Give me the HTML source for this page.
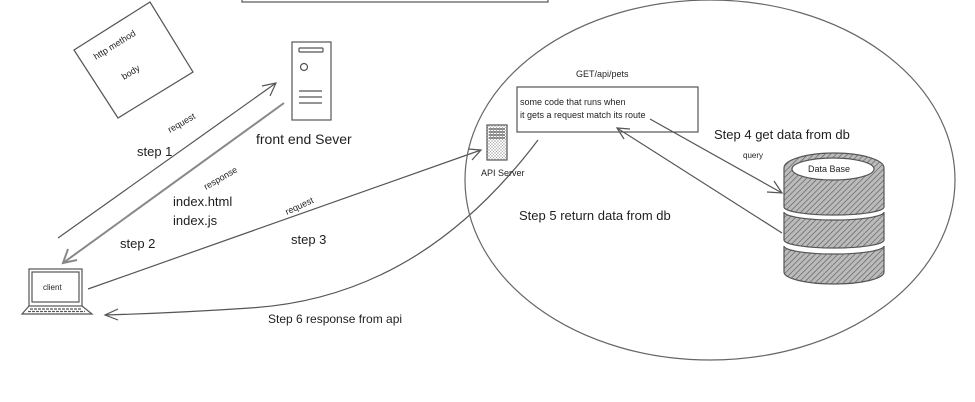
<!DOCTYPE html>
<html><head><meta charset="utf-8"><style>
html,body{margin:0;padding:0;background:#fff;}
svg{display:block}
text{font-family:"Liberation Sans",sans-serif;fill:#1e1e1e}
</style></head><body>
<svg width="975" height="402" viewBox="0 0 975 402" xmlns="http://www.w3.org/2000/svg">
<defs>
<pattern id="h" width="4" height="4" patternUnits="userSpaceOnUse" patternTransform="rotate(45)">
<rect width="4" height="4" fill="#bbb"/><line x1="0" y1="0" x2="0" y2="4" stroke="#555" stroke-width="1.2"/>
</pattern>
<pattern id="c" width="3" height="3" patternUnits="userSpaceOnUse">
<rect width="3" height="3" fill="#fff"/><path d="M0 0L3 3M3 0L0 3" stroke="#aaa" stroke-width="0.5"/>
</pattern>
</defs>
<g fill="none" stroke="#555" stroke-width="1.2">
<rect x="242" y="-10" width="306" height="12"/>
<polygon points="74,50 150,2 193,72 118,118"/>
<!-- front end server -->
<rect x="292" y="42" width="39" height="78"/>
<rect x="299" y="48" width="24" height="4" rx="1"/>
<circle cx="304" cy="67" r="3.5"/>
<line x1="299" y1="91" x2="322" y2="91"/><line x1="299" y1="97" x2="322" y2="97"/><line x1="299" y1="103" x2="322" y2="103"/>
<!-- step1 -->
<line x1="58" y1="238" x2="276" y2="83"/>
<polyline points="262,86 276,83 270,96"/>
<!-- step2 -->
<line x1="284" y1="103" x2="63" y2="263" stroke="#888" stroke-width="2"/>
<polyline points="68,249 63,263 77,260" stroke="#888" stroke-width="2"/>
<!-- client -->
<rect x="29" y="269" width="53" height="37"/>
<rect x="32" y="272" width="47" height="30"/>
<path d="M29 306 L22 314 L92 314 L82 306" />
<line x1="30" y1="309" x2="82" y2="309" stroke-dasharray="3 1"/>
<line x1="28" y1="311.5" x2="85" y2="311.5" stroke-dasharray="3 1"/>
<!-- step3 -->
<line x1="88" y1="289" x2="481" y2="150"/>
<polyline points="468,149 481,150 472,160"/>
<!-- step6 -->
<path d="M538 140 C470 230 380 300 250 308 C190 312 140 314 105 315"/>
<polyline points="118,309 105,315 118,320"/>
<!-- ellipse -->
<ellipse cx="710" cy="180" rx="245" ry="180" stroke="#666"/>
<!-- api server -->
<rect x="487" y="125" width="20" height="35" fill="url(#c)"/>
<line x1="489" y1="129" x2="505" y2="129"/><line x1="489" y1="132" x2="505" y2="132"/><line x1="489" y1="135" x2="505" y2="135"/><line x1="489" y1="138" x2="505" y2="138"/>
<!-- code box -->
<rect x="517" y="87" width="181" height="45"/>
<!-- step4 -->
<line x1="650" y1="119" x2="782" y2="193"/>
<polyline points="767,192 782,193 774,181"/>
<!-- step5 -->
<line x1="782" y1="233" x2="617" y2="128"/>
<polyline points="624,139 617,128 630,129"/>
<!-- DB -->
<path d="M784 168 A50 15 0 0 1 884 168 L884 207 A50 8 0 0 1 784 207 Z" fill="url(#h)"/>
<path d="M784 212 A50 8 0 0 0 884 212 L884 240 A50 8 0 0 1 784 240 Z" fill="url(#h)"/>
<path d="M784 246 A50 8 0 0 0 884 246 L884 272 A50 12 0 0 1 784 272 Z" fill="url(#h)"/>
<ellipse cx="833" cy="169" rx="41" ry="11" fill="#fff"/>
</g>
<text x="0" y="0" font-size="9" transform="translate(96,60) rotate(-32)">http method</text>
<text x="0" y="0" font-size="9" transform="translate(124,80) rotate(-32)">body</text>
<text x="256" y="144" font-size="14">front end Sever</text>
<text x="0" y="0" font-size="9" transform="translate(170,133) rotate(-30)">request</text>
<text x="137" y="156" font-size="13">step 1</text>
<text x="0" y="0" font-size="9" transform="translate(206,190) rotate(-30)">response</text>
<text x="173" y="206" font-size="13">index.html</text>
<text x="173" y="225" font-size="13">index.js</text>
<text x="120" y="248" font-size="13">step 2</text>
<text x="43" y="290" font-size="8">client</text>
<text x="0" y="0" font-size="9" transform="translate(287,215) rotate(-25)">request</text>
<text x="291" y="244" font-size="13">step 3</text>
<text x="268" y="323" font-size="12">Step 6 response from api</text>
<text x="481" y="176" font-size="9">API Server</text>
<text x="576" y="77" font-size="9">GET/api/pets</text>
<text x="520" y="105" font-size="9">some code that runs when</text>
<text x="520" y="118" font-size="9">it gets a request match its route</text>
<text x="714" y="139" font-size="13">Step 4 get data from db</text>
<text x="743" y="158" font-size="8">query</text>
<text x="519" y="220" font-size="13">Step 5 return data from db</text>
<text x="808" y="172" font-size="9">Data Base</text>
</svg>
</body></html>
